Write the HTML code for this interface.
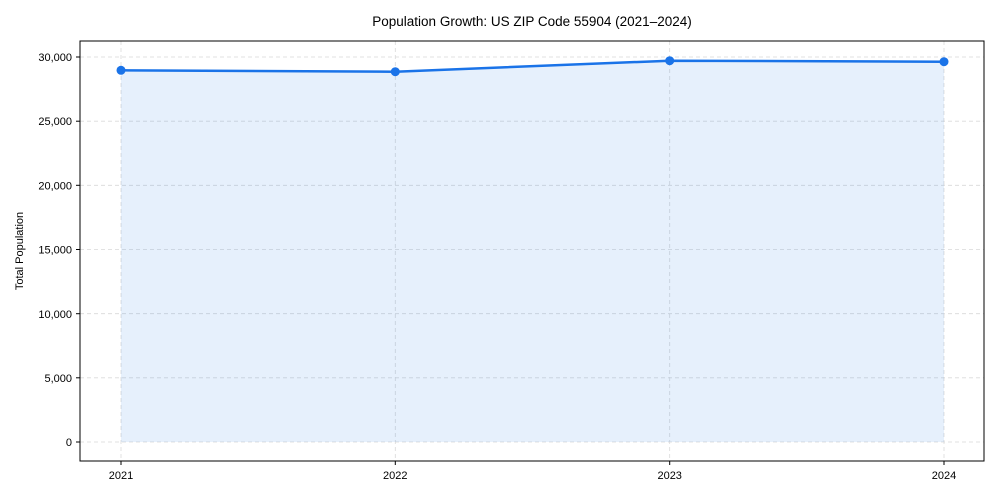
<!DOCTYPE html>
<html><head><style>body{margin:0;background:#fff}svg{display:block;font-family:"Liberation Sans",Arial,sans-serif}</style></head>
<body>
<svg width="1000" height="500" viewBox="0 0 1000 500">
<text x="532" y="26" text-anchor="middle" font-size="13.5">Population Growth: US ZIP Code 55904 (2021–2024)</text>
<g stroke="#d9d9d9" stroke-width="0.8" stroke-dasharray="4,3">
<line x1="80" x2="984" y1="442" y2="442"/><line x1="80" x2="984" y1="377.8" y2="377.8"/>
<line x1="80" x2="984" y1="313.7" y2="313.7"/><line x1="80" x2="984" y1="249.5" y2="249.5"/>
<line x1="80" x2="984" y1="185.3" y2="185.3"/><line x1="80" x2="984" y1="121.2" y2="121.2"/>
<line x1="80" x2="984" y1="57" y2="57"/>
<line x1="121" x2="121" y1="41" y2="461"/><line x1="395.3" x2="395.3" y1="41" y2="461"/>
<line x1="669.7" x2="669.7" y1="41" y2="461"/><line x1="944" x2="944" y1="41" y2="461"/>
</g>
<polygon points="121,70.3 395.3,71.7 669.7,60.7 944,61.7 944,442 121,442" fill="#1a73e8" fill-opacity="0.11"/>
<polyline points="121,70.3 395.3,71.7 669.7,60.7 944,61.7" fill="none" stroke="#1a73e8" stroke-width="2.5"/>
<g fill="#1a73e8"><circle cx="121" cy="70.3" r="4.5"/><circle cx="395.3" cy="71.7" r="4.5"/><circle cx="669.7" cy="60.7" r="4.5"/><circle cx="944" cy="61.7" r="4.5"/></g>
<rect x="80" y="41" width="904" height="420" fill="none" stroke="#000" stroke-width="1"/>
<g stroke="#000"><line x1="76" x2="80" y1="442" y2="442"/><line x1="76" x2="80" y1="377.8" y2="377.8"/><line x1="76" x2="80" y1="313.7" y2="313.7"/><line x1="76" x2="80" y1="249.5" y2="249.5"/><line x1="76" x2="80" y1="185.3" y2="185.3"/><line x1="76" x2="80" y1="121.2" y2="121.2"/><line x1="76" x2="80" y1="57" y2="57"/>
<line x1="121" x2="121" y1="461" y2="465"/><line x1="395.3" x2="395.3" y1="461" y2="465"/><line x1="669.7" x2="669.7" y1="461" y2="465"/><line x1="944" x2="944" y1="461" y2="465"/></g>
<g font-size="11" text-anchor="end">
<text x="72" y="446">0</text><text x="72" y="382">5,000</text><text x="72" y="318">10,000</text><text x="72" y="253.5">15,000</text><text x="72" y="189.5">20,000</text><text x="72" y="125">25,000</text><text x="72" y="61">30,000</text></g>
<g font-size="11" text-anchor="middle">
<text x="121" y="479">2021</text><text x="395.3" y="479">2022</text><text x="669.7" y="479">2023</text><text x="944" y="479">2024</text></g>
<text transform="translate(23,251) rotate(-90)" text-anchor="middle" font-size="11">Total Population</text>
</svg>
</body></html>
